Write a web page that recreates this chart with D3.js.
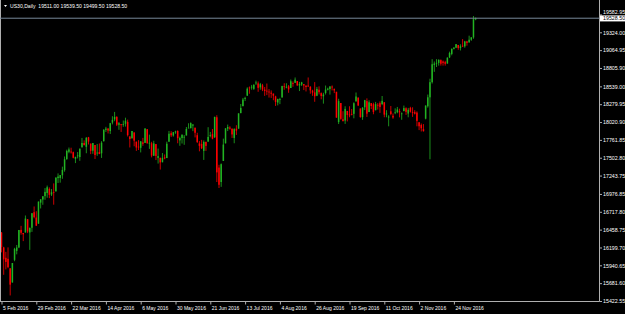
<!DOCTYPE html>
<html><head><meta charset="utf-8">
<script src="https://cdn.jsdelivr.net/npm/d3@7"></script>
<style>html,body{margin:0;padding:0;background:#000;overflow:hidden}svg{display:block}</style>
</head><body>
<svg id="c" width="625" height="314"></svg>
<script>
const dates = ["02-05",
"02-08","02-09","02-10","02-11","02-12","02-15","02-16","02-17","02-18","02-19",
"02-22","02-23","02-24","02-25","02-26","02-29","03-01","03-02","03-03","03-04",
"03-07","03-08","03-09","03-10","03-11","03-14","03-15","03-16","03-17","03-18",
"03-21","03-22","03-23","03-24",
"03-28","03-29","03-30","03-31","04-01","04-04","04-05","04-06","04-07","04-08",
"04-11","04-12","04-13","04-14","04-15","04-18","04-19","04-20","04-21","04-22",
"04-25","04-26","04-27","04-28","04-29","05-02","05-03","05-04","05-05","05-06",
"05-09","05-10","05-11","05-12","05-13","05-16","05-17","05-18","05-19","05-20",
"05-23","05-24","05-25","05-26","05-27","05-30","05-31","06-01","06-02","06-03",
"06-06","06-07","06-08","06-09","06-10","06-13","06-14","06-15","06-16","06-17",
"06-20","06-21","06-22","06-23","06-24","06-27","06-28","06-29","06-30","07-01",
"07-04","07-05","07-06","07-07","07-08","07-11","07-12","07-13","07-14","07-15",
"07-18","07-19","07-20","07-21","07-22","07-25","07-26","07-27","07-28","07-29",
"08-01","08-02","08-03","08-04","08-05","08-08","08-09","08-10","08-11","08-12",
"08-15","08-16","08-17","08-18","08-19","08-22","08-23","08-24","08-25","08-26",
"08-29","08-30","08-31","09-01","09-02","09-05","09-06","09-07","09-08","09-09",
"09-12","09-13","09-14","09-15","09-16","09-19","09-20","09-21","09-22","09-23",
"09-26","09-27","09-28","09-29","09-30","10-03","10-04","10-05","10-06","10-07",
"10-10","10-11","10-12","10-13","10-14","10-17","10-18","10-19","10-20","10-21",
"10-24","10-25","10-26","10-27","10-28","10-31","11-01","11-02","11-03","11-04",
"11-07","11-08","11-09","11-10","11-11","11-14","11-15","11-16","11-17","11-18",
"11-21","11-22","11-23","11-24","11-25","11-28","11-29","11-30","12-01","12-02",
"12-05","12-06","12-07","12-08"];

const openV = [16417,
16200,16050,16035,15897,15691,16020,16150,16200,16455,16410,
16417,16610,16418,16486,16712,16634,16545,16851,16896,16945,
16991,17050,16969,17006,17014,17207,17209,17248,17322,17483,
17589,17592,17583,17487,
17525,17513,17653,17717,17661,17799,17708,17605,17687,17570,
17586,17567,17741,17907,17925,17890,18012,18059,18094,17981,
17990,17990,17995,18023,17812,17784,17870,17736,17664,17647,
17726,17718,17917,17720,17712,17531,17701,17501,17502,17437,
17507,17498,17735,17859,17826,17870,17892,17754,17789,17799,
17826,17935,17931,17969,17939,17830,17710,17703,17602,17734,
17736,17827,17845,17800,18090,17360,17150,17456,17712,17924,
17940,17925,17790,17924,17925,18150,18251,18358,18403,18522,
18527,18503,18582,18582,18524,18554,18492,18476,18463,18447,
18434,18393,18304,18347,18377,18540,18533,18540,18515,18588,
18590,18617,18552,18565,18572,18546,18550,18533,18477,18451,
18403,18490,18440,18395,18442,18490,18500,18535,18500,18460,
18020,18297,18061,18042,18182,18130,18139,18140,18320,18376,
18218,18092,18235,18325,18166,18295,18280,18192,18271,18295,
18282,18308,18132,18088,18177,18112,18158,18163,18180,18135,
18179,18221,18144,18226,18167,18164,18158,18018,17979,17918,
18070,18250,18380,18600,18850,18870,18880,18920,18900,18890,
18870,18960,19010,19083,19100,19140,19097,19130,19120,19191,
19180,19216,19250,19511];

const highV = [16423,
16210,16136,16201,15897,15974,16195,16236,16454,16514,16410,
16664,16610,16488,16697,16795,16726,16866,16900,16944,17062,
17099,17072,17048,17130,17220,17275,17252,17373,17521,17620,
17651,17648,17592,17516,
17585,17636,17790,17755,17803,17805,17708,17717,17687,17703,
17710,17743,17918,17951,17935,18009,18105,18168,18107,18020,
17990,18043,18084,18056,17812,17891,17870,17736,17758,17744,
17791,17929,17917,17838,17734,17749,17701,17636,17502,17571,
17550,17736,17892,17888,17877,17895,17900,17809,17839,17833,
17949,18003,18016,17989,17939,17865,17744,17762,17754,17734,
17946,17877,17920,18100,18120,17400,17420,17780,17930,17984,
17960,17925,17931,17975,18147,18283,18371,18388,18525,18537,
18560,18572,18622,18610,18589,18575,18530,18580,18500,18480,
18434,18403,18360,18372,18548,18584,18584,18559,18638,18611,
18668,18617,18604,18605,18572,18560,18668,18542,18490,18601,
18531,18539,18451,18446,18551,18520,18541,18552,18509,18460,
18359,18297,18178,18250,18182,18250,18210,18307,18450,18376,
18218,18238,18343,18365,18337,18295,18301,18313,18296,18320,
18399,18309,18193,18120,18254,18145,18220,18240,18215,18160,
18260,18235,18226,18242,18235,18193,18176,18018,18000,17991,
18263,18420,18650,18934,18900,18934,18930,18930,18915,18910,
18960,19043,19091,19110,19153,19140,19150,19225,19200,19200,
19275,19253,19560,19539.5];

const lowV = [16129,
15803,15881,15899,15503,15691,16000,16100,16190,16385,16292,
16417,16408,16165,16426,16623,16511,16545,16766,16820,16892,
16922,16916,16947,16821,17014,17136,17141,17197,17300,17473,
17568,17563,17494,17425,
17493,17458,17653,17683,17568,17695,17555,17560,17484,17531,
17555,17500,17741,17877,17855,17848,17987,18033,17963,17908,
17877,17952,17955,17811,17652,17784,17669,17602,17615,17580,
17676,17718,17711,17631,17508,17531,17469,17418,17331,17437,
17480,17498,17735,17803,17809,17850,17713,17676,17709,17690,
17826,17935,17931,17889,17798,17716,17596,17629,17471,17602,
17736,17799,17770,17790,17150,17063,17080,17456,17711,17890,
17910,17790,17713,17834,17925,18150,18251,18326,18403,18432,
18491,18488,18560,18460,18490,18470,18401,18412,18376,18371,
18338,18255,18263,18281,18377,18490,18511,18446,18515,18533,
18590,18549,18471,18545,18485,18465,18530,18432,18402,18315,
18397,18422,18351,18288,18420,18480,18419,18480,18441,18085,
17992,18054,18031,17994,18030,18090,18118,18075,18320,18253,
18083,18053,18195,18095,18166,18209,18134,18192,18202,18154,
18266,18090,18090,17959,18120,18068,18135,18149,18089,18054,
18179,18125,18090,18158,18096,18131,17959,17904,17884,17883,
18060,18230,17480,18580,18750,18820,18840,18840,18840,18840,
18870,18950,18990,19075,19095,19070,19060,19110,19100,19130,
19170,19200,19230,19499.5];

const closeV = [16205,
16027,15990,15914,15660,15974,16180,16200,16453,16413,16391,
16620,16431,16485,16697,16640,16517,16866,16899,16943,17007,
17074,16964,17001,16996,17213,17229,17251,17326,17481,17602,
17623,17583,17503,17516,
17536,17634,17717,17685,17792,17737,17603,17716,17542,17577,
17556,17721,17908,17926,17897,18004,18053,18096,17983,18004,
17977,17991,18041,17831,17774,17891,17751,17651,17661,17740,
17705,17928,17711,17720,17535,17711,17529,17526,17435,17501,
17493,17706,17851,17828,17873,17885,17787,17790,17838,17807,
17920,17938,18005,17985,17865,17732,17675,17640,17733,17675,
17805,17830,17780,18095,17290,17110,17409,17694,17930,17949,
17925,17841,17918,17896,18147,18226,18347,18372,18506,18516,
18534,18559,18595,18517,18570,18493,18473,18472,18456,18432,
18404,18313,18355,18353,18543,18529,18533,18495,18613,18576,
18636,18552,18573,18597,18552,18529,18547,18481,18448,18395,
18502,18454,18400,18420,18492,18505,18538,18526,18480,18085,
18325,18067,18034,18212,18124,18120,18130,18294,18392,18262,
18094,18228,18339,18143,18308,18254,18168,18281,18269,18240,
18329,18129,18144,18099,18138,18087,18162,18203,18162,18146,
18223,18169,18199,18170,18161,18142,18038,17960,17931,17888,
18260,18380,18600,18860,18870,18880,18925,18868,18880,18867,
18956,19023,19083,19100,19152,19097,19121,19123,19191,19170,
19216,19251,19515,19528.5];

const priceTicks = [19582.95,19324.00,19064.95,18805.90,18539.00,18279.95,18020.90,17761.85,17502.80,17243.75,16976.85,16717.80,16458.75,16199.70,15940.65,15681.60,15422.55];
const timeTickDates = ["02-05","02-29","03-22","04-14","05-06","05-30","06-21","07-13","08-04","08-26","09-19","10-11","11-02","11-24"];
const timeTickLabels = ["5 Feb 2016","29 Feb 2016","22 Mar 2016","14 Apr 2016","6 May 2016","30 May 2016","21 Jun 2016","13 Jul 2016","4 Aug 2016","26 Aug 2016","19 Sep 2016","11 Oct 2016","2 Nov 2016","24 Nov 2016"];
const symbolName = "US30,Daily";
const headerValues = ["19511.00","19539.50","19499.50","19528.50"];
const bidPrice = 19528.50;

const W = 625, H = 314;
const plotRight = 599.5, plotBottom = 301.5;
const font = "'Liberation Sans', Arial, sans-serif";
const svg = d3.select("#c");
svg.append("rect").attr("width", W).attr("height", H).attr("fill", "#000");

const x = d3.scalePoint().domain(dates).range([1.5, 1.5 + (dates.length - 1) * 2.175]);
const y = d3.scaleLinear().domain([15422.55, 19324.00]).range([301, 32.3]);

const bars = dates.map((d, i) => ({d, o: openV[i], h: highV[i], l: lowV[i], c: closeV[i]}));
const up = "#22b322", dn = "#ff0000";

const g = svg.append("g");
g.selectAll("line.wick").data(bars).join("line")
  .attr("x1", b => x(b.d)).attr("x2", b => x(b.d))
  .attr("y1", b => y(b.h)).attr("y2", b => y(b.l))
  .attr("stroke", b => b.c >= b.o ? up : dn).attr("stroke-width", 0.8);
g.selectAll("rect.body").data(bars).join("rect")
  .attr("x", b => x(b.d) - 0.75).attr("width", 1.5)
  .attr("y", b => y(Math.max(b.o, b.c)))
  .attr("height", b => Math.max(0.8, Math.abs(y(b.o) - y(b.c))))
  .attr("fill", b => b.c >= b.o ? up : dn);

// frame
svg.append("line").attr("x1", 0.5).attr("x2", 0.5).attr("y1", 0).attr("y2", plotBottom).attr("stroke", "#b0b0b0").attr("stroke-width", 1);
svg.append("line").attr("x1", plotRight).attr("x2", plotRight).attr("y1", 0).attr("y2", plotBottom).attr("stroke", "#b0b0b0").attr("stroke-width", 1);
svg.append("line").attr("x1", 0).attr("x2", plotRight).attr("y1", plotBottom).attr("y2", plotBottom).attr("stroke", "#b0b0b0").attr("stroke-width", 1);

// price axis
const yAxis = d3.axisRight(y).tickValues(priceTicks).tickFormat(d => d.toFixed(2)).tickSize(2.5).tickPadding(1);
const ya = svg.append("g").attr("transform", `translate(${plotRight},0)`).call(yAxis);
ya.select(".domain").remove();
ya.selectAll("line").attr("stroke", "#b0b0b0");
ya.selectAll("text").attr("fill", "#fff").style("font-family", font).style("font-size", "5.3px");
// the top label sits just above the bid-price box
ya.selectAll(".tick").filter(d => d === priceTicks[0]).select("text").attr("dy", "-0.15em");

// time axis
const xAxis = d3.axisBottom(x).tickValues(timeTickDates).tickFormat((d, i) => timeTickLabels[i]).tickSize(3).tickPadding(1.5);
const xa = svg.append("g").attr("transform", `translate(0,${plotBottom})`).call(xAxis);
xa.select(".domain").remove();
xa.selectAll("line").attr("stroke", "#b0b0b0");
xa.selectAll("text").attr("fill", "#fff").attr("text-anchor", "start").attr("dx", "1")
  .style("font-family", font).style("font-size", "5px");

// bid line + label
const by = y(bidPrice);
svg.append("line").attr("x1", 0).attr("x2", plotRight).attr("y1", by).attr("y2", by)
  .attr("stroke", "#778899").attr("stroke-width", 1);
svg.append("rect").attr("x", plotRight + 0.5).attr("y", by - 2.8).attr("width", W - plotRight).attr("height", 6).attr("fill", "#fff");
svg.append("text").attr("x", plotRight + 3.5).attr("y", by + 1.9).text(bidPrice.toFixed(2))
  .attr("fill", "#000").style("font-family", font).style("font-size", "5.3px");

// header
svg.append("path").attr("d", "M4,5 L7,5 L5.5,7 Z").attr("fill", "#fff");
svg.append("text").attr("x", 10).attr("y", 7.6).attr("fill", "#fff")
  .style("font-family", font).style("font-size", "5.1px").style("white-space", "pre")
  .text(symbolName + "  " + headerValues.join(" "));
</script>
</body></html>
